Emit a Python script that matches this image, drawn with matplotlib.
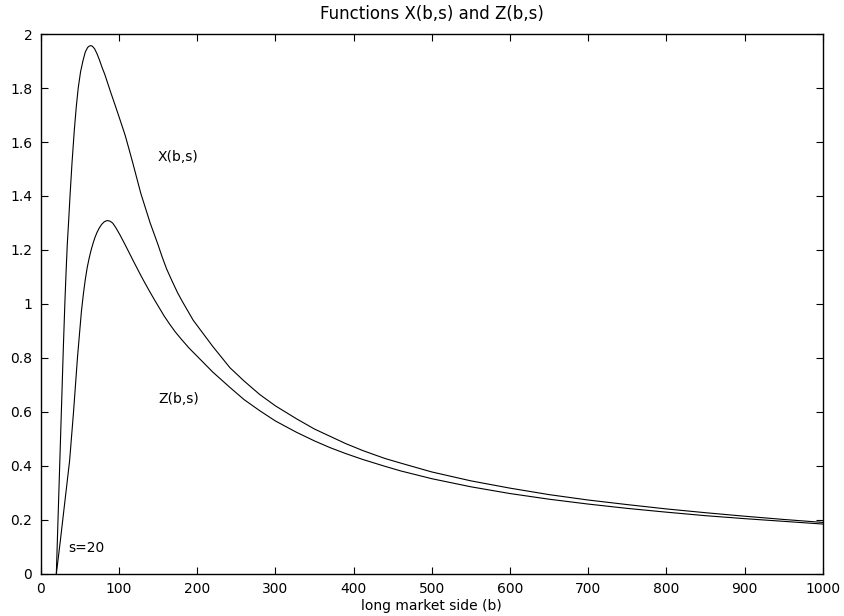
import numpy as np
import matplotlib
matplotlib.use("Agg")
import matplotlib.pyplot as plt
from matplotlib.ticker import FormatStrFormatter

plt.rcParams['font.family'] = ['DejaVu Sans']
plt.rcParams['font.size'] = 10

# X(b,s) for s=20
b_x = [20, 23, 26, 29, 31, 32.5, 34, 36, 37.5, 40, 43, 45.5, 48, 51, 54, 57,
       60, 62, 64, 66, 69, 72, 75, 78, 82, 86, 90, 95, 100, 108, 113, 118,
       123, 128, 134, 140, 145, 150, 155, 161, 168, 175, 181, 187, 195, 204,
       220, 242, 260, 280, 300, 327, 350, 370, 390, 412, 440, 460, 500, 550,
       600, 650, 700, 750, 800, 850, 900, 950, 1000]
x_val = [0, 0.28, 0.56, 0.84, 1.01, 1.12, 1.22, 1.32, 1.40, 1.52, 1.644, 1.73,
         1.80, 1.86, 1.90, 1.933, 1.950, 1.955, 1.957, 1.955, 1.945, 1.927,
         1.905, 1.88, 1.85, 1.815, 1.78, 1.738, 1.695, 1.625, 1.573, 1.52, 1.465,
         1.41, 1.355, 1.30, 1.26, 1.22, 1.177, 1.13, 1.085, 1.042, 1.01, 0.98,
         0.94, 0.905, 0.843, 0.764, 0.715, 0.665, 0.623, 0.575, 0.537, 0.510,
         0.483, 0.457, 0.428, 0.411, 0.378, 0.345, 0.318, 0.294, 0.274, 0.257,
         0.241, 0.227, 0.214, 0.202, 0.191]

# Z(b,s) for s=20
b_z = [20, 25, 29, 33, 37, 42, 47, 52, 54.5, 57, 59.5, 62, 64.5, 67, 69.5,
       72, 75, 78, 81.5, 85, 88.5, 92, 96, 101, 105, 110, 114, 118, 123, 128,
       134, 140, 146, 152, 158, 165, 172, 180, 190, 204, 220, 242, 260, 280,
       300, 327, 350, 370, 390, 412, 440, 460, 500, 550, 600, 650, 700, 750,
       800, 850, 900, 950, 1000]
z_val = [0, 0.12, 0.22, 0.32, 0.42, 0.60, 0.80, 0.97, 1.035, 1.09, 1.135, 1.17,
         1.20, 1.225, 1.247, 1.265, 1.282, 1.295, 1.305, 1.309, 1.307, 1.300,
         1.283, 1.258, 1.236, 1.208, 1.185, 1.162, 1.134, 1.106, 1.074, 1.043,
         1.013, 0.984, 0.955, 0.925, 0.897, 0.869, 0.836, 0.795, 0.748, 0.691,
         0.646, 0.605, 0.567, 0.525, 0.493, 0.468, 0.446, 0.424, 0.399, 0.382,
         0.353, 0.323, 0.298, 0.277, 0.259, 0.243, 0.229, 0.216, 0.205, 0.195,
         0.185]

fig = plt.figure(figsize=(8.44, 6.16), dpi=100)
ax = fig.add_axes([0.0482, 0.0682, 0.9266, 0.8766])

ax.plot(b_x, x_val, color='black', lw=0.8)
ax.plot(b_z, z_val, color='black', lw=0.8)

ax.text(150, 1.544, 'X(b,s)', ha='left', va='center')
ax.text(150, 0.648, 'Z(b,s)', ha='left', va='center')
ax.text(35, 0.096, 's=20', ha='left', va='center')

ax.set_xlim(0, 1000)
ax.set_ylim(0, 2)
ax.set_xticks(np.arange(0, 1001, 100))
ax.set_yticks(np.arange(0, 2.01, 0.2))
ax.yaxis.set_major_formatter(FormatStrFormatter('%g'))
ax.tick_params(direction='in', length=5, width=0.8, top=True, right=True, pad=6)
for sp in ax.spines.values():
    sp.set_linewidth(1.0)

ax.set_title('Functions X(b,s) and Z(b,s)', pad=11)
ax.set_xlabel('long market side (b)', labelpad=2)

fig.savefig('out.png', dpi=100)
